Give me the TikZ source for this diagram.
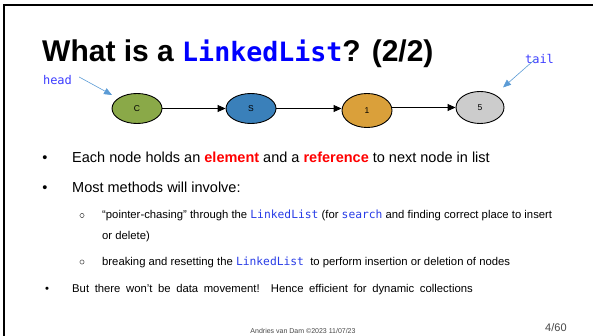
\documentclass[tikz,border=0pt]{standalone}
\usepackage{fontspec}
\setmainfont{Liberation Sans}
\newfontfamily\codefont{DejaVu Sans Mono}
\usetikzlibrary{arrows.meta,shapes.geometric}

\definecolor{titleblue}{RGB}{0,0,255}
\definecolor{labelblue}{RGB}{60,60,255}
\definecolor{codeblue}{RGB}{40,60,230}
\definecolor{ptrblue}{RGB}{91,155,213}
\definecolor{hotred}{RGB}{255,0,0}
\definecolor{nodegreen}{RGB}{138,169,72}
\definecolor{nodeblue}{RGB}{58,128,186}
\definecolor{nodeorange}{RGB}{218,160,58}
\definecolor{nodegray}{RGB}{204,204,204}
\definecolor{footgray}{RGB}{70,70,70}

\newcommand{\code}[1]{{\codefont\color{codeblue}#1}}
\newcommand{\hot}[1]{{\bfseries\color{hotred}#1}}

\tikzset{
  listnode/.style={ellipse, draw=black, line width=0.9pt, minimum width=50pt,
    minimum height=30pt, inner sep=0pt, font=\fontsize{8.5}{10}\selectfont},
  link/.style={line width=0.9pt, -{Triangle[length=8pt,width=7pt]}},
  ptrlabel/.style={inner sep=0pt, text=labelblue,
    font=\codefont\fontsize{12}{14}\selectfont},
  ptr/.style={draw=ptrblue, line width=0.6pt, -{Triangle[length=8pt,width=6.5pt]}},
  bodytext/.style={anchor=base west, inner sep=0pt, font=\fontsize{14.5}{17}\selectfont},
  subtext/.style={anchor=base west, inner sep=0pt, font=\fontsize{11.3}{13}\selectfont},
  dot/.style={anchor=base, inner sep=0pt},
  ring/.style={circle, draw=footgray, line width=0.5pt, minimum size=4.2pt, inner sep=0pt},
}

\begin{document}
\begin{tikzpicture}[x=1pt,y=-1pt]
\useasboundingbox (0,0) rectangle (593,336);

% slide frame (top and left rules)
\draw[line width=2pt] (4,336) -- (4,5) -- (593,5);

% title
\node[anchor=base west, inner sep=0pt] (title) at (42,62)
  {\fontsize{30}{36}\selectfont\bfseries What is a
   {\codefont\fontsize{26.6}{30}\selectfont\color{titleblue}LinkedList}? (2/2)};

% the linked list
\node[listnode, fill=nodegreen] (c) at (137,108.5) {C};
\node[listnode, fill=nodeblue] (s) at (251,108.5) {S};
\node[listnode, fill=nodeorange, minimum height=34pt] (one) at (367,110.5) {1};
\node[listnode, fill=nodegray, minimum width=48pt, minimum height=32pt] (five) at (480,107.5) {5};

% horizontal links between consecutive nodes
\draw[link] (c) -- (s);
\draw[link] (s.east) -- (s.east -| one.west);
\draw[link] (five.west -| one.east) -- (five.west);

% head and tail references
\node[ptrlabel] (head) at (57.5,80) {head};
\coordinate (headtip) at (112,95);
\draw[ptr] ([xshift=7pt,yshift=3pt]head.east) -- (headtip);

\node[ptrlabel] (tail) at (539.5,59) {tail};
\coordinate (tailtip) at (503,87.5);
\draw[ptr] ([xshift=-4pt,yshift=5pt]tail.south) -- (tailtip);

% bullet points
\node[dot, font=\fontsize{14.5}{17}\selectfont] (b1) at (45,163) {•};
\node[bodytext] (t1) at (72,163)
  {Each node holds an \hot{element} and a \hot{reference} to next node in list};

\node[dot, font=\fontsize{14.5}{17}\selectfont] (b2) at (45,193) {•};
\node[bodytext] (t2) at (72,193) {Most methods will involve:};

\node[ring] (r1) at (82,215.5) {};
\node[subtext] (s1) at (102,218.5)
  {“pointer-chasing” through the \code{LinkedList} (for \code{search} and finding correct place to insert};
\node[subtext] (s1b) at (102,239.5) {or delete)};

\node[ring] (r2) at (82,262) {};
\node[subtext] (s2) at (102,265.5)
  {breaking and resetting the \code{LinkedList}\ \ to perform insertion or deletion of nodes};

\node[dot, font=\fontsize{11.3}{13}\selectfont] (b3) at (47,292.5) {•};
\node[subtext] (s3) at (72,292.5)
  {\spaceskip=5.6pt plus 1pt But there won't be data movement!\ \ Hence efficient for dynamic collections};

% footer
\node[anchor=base, inner sep=0pt, text=footgray, font=\fontsize{7}{8}\selectfont]
  (foot) at (303,333) {Andries van Dam ©2023 11/07/23};
\node[anchor=base west, inner sep=0pt, text=footgray, font=\fontsize{11}{13}\selectfont]
  (page) at (545,331) {4/60};
\end{tikzpicture}
\end{document}
